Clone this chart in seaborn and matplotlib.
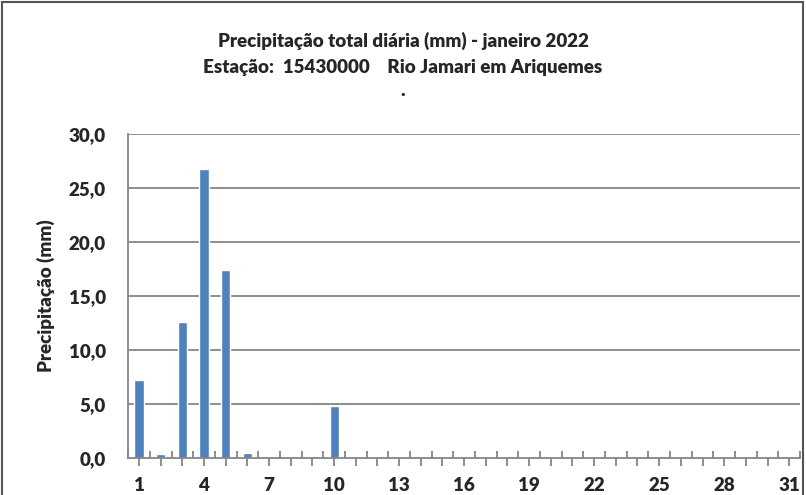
import numpy as np
import pandas as pd
import matplotlib
matplotlib.use("Agg")
import matplotlib.pyplot as plt
import seaborn as sns
from matplotlib.patches import Rectangle

# Daily rainfall, January 2022
dias = list(range(1, 32))
precip = [7.2, 0.4, 12.6, 26.8, 17.4, 0.5, 0.0, 0.0, 0.2, 4.8,
          0, 0, 0, 0, 0, 0, 0, 0, 0, 0,
          0, 0, 0, 0, 0, 0, 0, 0, 0, 0, 0]
y_ticks = [0, 5, 10, 15, 20, 25, 30]

titulo = "Precipitação total diária (mm) - janeiro 2022"
subtitulo = "Estação:  15430000    Rio Jamari em Ariquemes"

sns.set_style("white")
plt.rcParams['font.family'] = ['Lato', 'DejaVu Sans']
plt.rcParams['font.weight'] = 'bold'

df = pd.DataFrame({"dia": dias, "mm": precip})

fig = plt.figure(figsize=(8.06, 4.95), dpi=100)
ax = fig.add_axes([0.159, 0.0747, 0.8336, 0.6546])

grid_c = "#868686"
fs = 13.5
for v in y_ticks[1:]:
    ax.axhline(v, color=grid_c, lw=1.3, zorder=0)

sns.barplot(data=df, x="dia", y="mm", order=dias, color="#4f81bd",
            width=0.42, saturation=1, ax=ax, zorder=2)

ax.set_xlim(-0.5, 30.5)
ax.set_ylim(0, 30)
ax.set_yticks(y_ticks)
ax.set_yticklabels([f"{v:.1f}".replace(".", ",") for v in y_ticks],
                   fontsize=fs, fontweight='heavy')
ax.set_xticks(range(31))
ax.set_xticklabels([str(d) if (d - 1) % 3 == 0 else "" for d in dias],
                   fontsize=fs, fontweight='heavy')
ax.set_xticks(np.arange(-0.5, 31, 1), minor=True)
ax.tick_params(axis='x', which='both', bottom=True)
ax.tick_params(axis='x', which='major', direction='out', length=6,
               width=1.3, color=grid_c, pad=8)
ax.tick_params(axis='x', which='minor', direction='in', length=5,
               width=1.3, color=grid_c)
ax.tick_params(axis='y', which='major', left=False, length=0, pad=16)

for s in ["top", "right"]:
    ax.spines[s].set_visible(False)
for s in ["left", "bottom"]:
    ax.spines[s].set_color(grid_c)
    ax.spines[s].set_linewidth(1.3)

ax.set_xlabel("")
ax.set_ylabel("Precipitação (mm)", fontsize=fs, fontweight='heavy', labelpad=10)

fig.text(0.5, 1 - 41 / 495, titulo, ha='center', va='center',
         fontsize=fs, fontweight='heavy')
fig.text(0.5, 1 - 68 / 495, subtitulo, ha='center', va='center',
         fontsize=fs, fontweight='heavy')
fig.text(0.5, 1 - 91 / 495, ".", ha='center', va='center',
         fontsize=14, fontweight='heavy')

fig.patches.append(Rectangle((0.003, -0.02), 0.993, 1.015, transform=fig.transFigure,
                             fill=False, edgecolor="#555555", lw=1.5))

fig.savefig("out.png", dpi=100)
